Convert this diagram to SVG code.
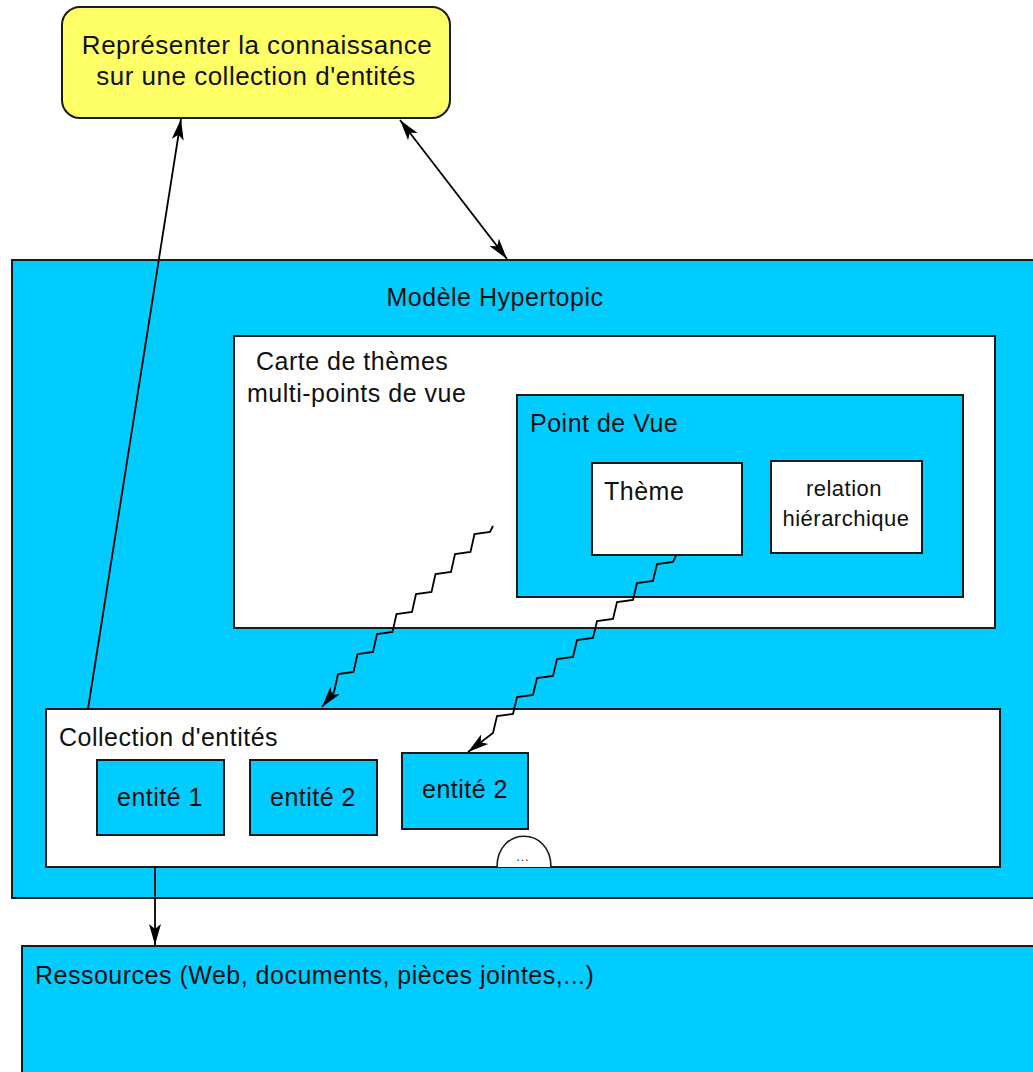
<svg xmlns="http://www.w3.org/2000/svg" width="1033" height="1072" viewBox="0 0 1033 1072">
<style>
  text { font-family: "Liberation Sans", Arial, sans-serif; font-size: 25px; fill: #111; letter-spacing: 0.5px; }
  .blue { fill: #00CCFF; stroke: #1a1a1a; stroke-width: 2; }
  .white { fill: #FFFFFF; stroke: #1a1a1a; stroke-width: 2; }
  .yellow { fill: #FFFF66; stroke: #1a1a1a; stroke-width: 2; }
  .conn { fill: none; stroke: #000; stroke-width: 1.8; }
  .mid { text-anchor: middle; }
</style>
<defs>
  <marker id="arrow" markerUnits="userSpaceOnUse" viewBox="0 -7 22 14" refX="21" refY="0" markerWidth="22" markerHeight="14" orient="auto-start-reverse">
    <path d="M0,-6 L21,0 L0,6 L5,0 Z" fill="#000"/>
  </marker>
</defs>
<rect width="1033" height="1072" fill="#FFFFFF"/>

<g id="goal">
  <rect class="yellow" x="62" y="7" width="388" height="111" rx="18" ry="18"/>
  <text class="mid" x="257" y="54" style="font-size:26px">Représenter la connaissance</text>
  <text class="mid" x="256" y="85" style="font-size:26px">sur une collection d'entités</text>
</g>

<g id="modele">
  <rect class="blue" x="12" y="260" width="1035" height="638"/>
  <text class="mid" x="495" y="306">Modèle Hypertopic</text>
</g>

<g id="carte">
  <rect class="white" x="234" y="336" width="761" height="292"/>
  <text x="256" y="370">Carte de thèmes</text>
  <text x="247" y="402">multi-points de vue</text>
</g>

<g id="pointdevue">
  <rect class="blue" x="517" y="395" width="446" height="202"/>
  <text x="530" y="432">Point de Vue</text>
</g>

<g id="theme">
  <rect class="white" x="592" y="463" width="150" height="92"/>
  <text x="604" y="500">Thème</text>
</g>

<g id="relation">
  <rect class="white" x="771" y="461" width="151" height="92"/>
  <text class="mid" x="844" y="496" style="font-size:22px">relation</text>
  <text class="mid" x="846" y="526" style="font-size:22px">hiérarchique</text>
</g>

<g id="collection">
  <rect class="white" x="46" y="709" width="954" height="158"/>
  <text x="59" y="746">Collection d'entités</text>
</g>

<g id="entite1">
  <rect class="blue" x="97" y="760" width="127" height="75"/>
  <text class="mid" x="160" y="806">entité 1</text>
</g>

<g id="entite2a">
  <rect class="blue" x="250" y="760" width="127" height="75"/>
  <text class="mid" x="313" y="806">entité 2</text>
</g>

<g id="entite2b">
  <rect class="blue" x="402" y="753" width="126" height="76"/>
  <text class="mid" x="465" y="798">entité 2</text>
</g>

<g id="etc">
  <path d="M497,867 C497,826 551,826 551,867" fill="#FFFFFF" stroke="#1a1a1a" stroke-width="1.6"/>
  <text class="mid" x="523" y="861" style="font-size:12px;letter-spacing:1px">...</text>
</g>

<g id="ressources">
  <rect class="blue" x="22" y="946" width="1030" height="140"/>
  <text x="35" y="984">Ressources (Web, documents, pièces jointes,...)</text>
</g>

<g id="connectors">
  <line class="conn" x1="88" y1="709" x2="181" y2="119" marker-end="url(#arrow)"/>
  <line class="conn" x1="400" y1="120" x2="507" y2="259" marker-start="url(#arrow)" marker-end="url(#arrow)"/>
  <line class="conn" x1="155" y1="867" x2="155" y2="945" marker-end="url(#arrow)"/>
  <path class="conn" d="M493,526 l-3,6 l-15.5,2 l-4,18 l-15.5,2 l-4,18 l-15.5,2 l-4,18 l-15.5,2 l-4,18 l-15.5,2 l-4,18 l-15.5,2 l-4,18 l-15.5,2 l-4,18 l-15.5,2 l-4,18 l-12,15" marker-end="url(#arrow)"/>
  <path class="conn" d="M676,556 l-3,6 l-16,2 l-4,17 l-16,2 l-4,17 l-16,2 l-4,17 l-16,2 l-4,17 l-16,2 l-4,17 l-16,2 l-4,17 l-16,2 l-4,17 l-16,2 l-4,17 l-16,2 l-4,17 l-25,19" marker-end="url(#arrow)"/>
</g>
</svg>
